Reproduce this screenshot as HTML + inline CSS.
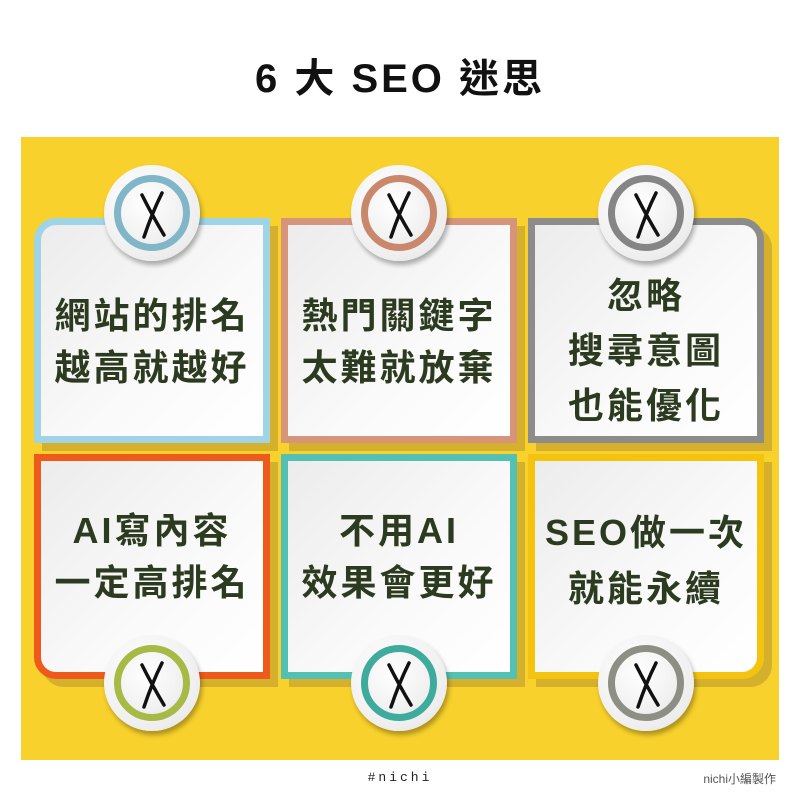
<!DOCTYPE html>
<html><head><meta charset="utf-8"><style>
*{margin:0;padding:0;box-sizing:border-box}
body{width:800px;height:800px;background:#fff;position:relative;overflow:hidden;font-family:"Liberation Sans","Noto Sans CJK TC",sans-serif}
.title{position:absolute;top:54px;left:0;width:800px;text-align:center;font-size:40px;font-weight:bold;color:#111;letter-spacing:3px;line-height:50px}
.panel{position:absolute;left:21px;top:137px;width:758px;height:623px;background:#f8d12c}
.card{position:absolute;width:236px;height:225px;border:7px solid;background:linear-gradient(135deg,#ececec,#fafafa 60%,#fff);box-shadow:8px 8px 0 #d4b02c}
.txt{position:absolute;left:0;width:100%;text-align:center;font-weight:bold;font-size:36px;color:#2c3b1f;letter-spacing:3px;line-height:52px}
.c{position:absolute;width:96px;height:96px;border-radius:50%;background:radial-gradient(circle at 40% 35%,#fff,#eee 70%,#ddd);box-shadow:2px 4px 5px rgba(0,0,0,.3)}
.c .r{position:absolute;left:10px;top:10px;width:76px;height:76px;border-radius:50%;border:7px solid;background:radial-gradient(circle at 40% 35%,#fff,#f0f0f0 70%,#ddd)}
.c svg{position:absolute;left:0;top:0}
.foot1{position:absolute;top:770px;left:0;width:800px;text-align:center;font-size:13px;letter-spacing:3px;color:#222;font-family:"Liberation Mono",monospace}
.foot2{position:absolute;top:770px;right:24px;font-size:12px;color:#555}
</style></head><body>
<div class="title">6 大 SEO 迷思</div>
<div class="panel"></div>

<div class="card" style="left:34px;top:218px;border-color:#9fd4e6;border-top-left-radius:22px"><div class="txt" style="top:65px">網站的排名<br>越高就越好</div></div>
<div class="card" style="left:281px;top:218px;border-color:#d6957a"><div class="txt" style="top:65px">熱門關鍵字<br>太難就放棄</div></div>
<div class="card" style="left:528px;top:218px;border-color:#8c8c8a;border-top-right-radius:22px"><div class="txt" style="top:43px;line-height:55px">忽略<br>搜尋意圖<br>也能優化</div></div>

<div class="card" style="left:34px;top:454px;border-color:#ee5a1c;border-bottom-left-radius:22px"><div class="txt" style="top:44px">AI寫內容<br>一定高排名</div></div>
<div class="card" style="left:281px;top:454px;border-color:#52c0b2"><div class="txt" style="top:44px">不用AI<br>效果會更好</div></div>
<div class="card" style="left:528px;top:454px;border-color:#f4c30f;border-bottom-right-radius:22px"><div class="txt" style="top:44px;line-height:56px">SEO做一次<br>就能永續</div></div>

<div class="c" style="left:104px;top:165px"><div class="r" style="border-color:#80b6c8"></div><svg width="96" height="96"><path d="M38 30 Q48 50 60 70 M58 28 Q48 48 40 72" stroke="#111" stroke-width="3.5" fill="none" stroke-linecap="round"/></svg></div>
<div class="c" style="left:351px;top:165px"><div class="r" style="border-color:#c9876b"></div><svg width="96" height="96"><path d="M38 30 Q48 50 60 70 M58 28 Q48 48 40 72" stroke="#111" stroke-width="3.5" fill="none" stroke-linecap="round"/></svg></div>
<div class="c" style="left:598px;top:165px"><div class="r" style="border-color:#858585"></div><svg width="96" height="96"><path d="M38 30 Q48 50 60 70 M58 28 Q48 48 40 72" stroke="#111" stroke-width="3.5" fill="none" stroke-linecap="round"/></svg></div>
<div class="c" style="left:104px;top:635px"><div class="r" style="border-color:#a7ba45"></div><svg width="96" height="96"><path d="M38 30 Q48 50 60 70 M58 28 Q48 48 40 72" stroke="#111" stroke-width="3.5" fill="none" stroke-linecap="round"/></svg></div>
<div class="c" style="left:351px;top:635px"><div class="r" style="border-color:#3eab9c"></div><svg width="96" height="96"><path d="M38 30 Q48 50 60 70 M58 28 Q48 48 40 72" stroke="#111" stroke-width="3.5" fill="none" stroke-linecap="round"/></svg></div>
<div class="c" style="left:598px;top:635px"><div class="r" style="border-color:#8d8e84"></div><svg width="96" height="96"><path d="M38 30 Q48 50 60 70 M58 28 Q48 48 40 72" stroke="#111" stroke-width="3.5" fill="none" stroke-linecap="round"/></svg></div>

<div class="foot1">#nichi</div>
<div class="foot2">nichi小編製作</div>
</body></html>
